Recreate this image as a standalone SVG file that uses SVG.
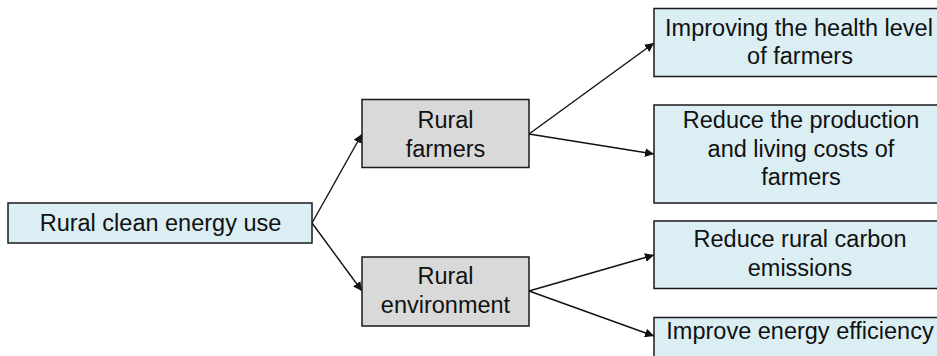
<svg xmlns="http://www.w3.org/2000/svg" width="937" height="356" viewBox="0 0 937 356">
<style>
.blue{fill:#DAEEF3;stroke:#1a1a1a;stroke-width:1.5}
.gray{fill:#D9D9D9;stroke:#1a1a1a;stroke-width:1.5}
text{font-family:"Liberation Sans",Arial,sans-serif;font-size:23.5px;fill:#111;text-anchor:middle}
.conn line{stroke:#111;stroke-width:1.4;marker-end:url(#arr)}
</style>
<defs>
<marker id="arr" viewBox="0 0 10 10" refX="10" refY="5" markerWidth="9" markerHeight="9" markerUnits="userSpaceOnUse" orient="auto">
<path d="M0,0 L10,5 L0,10 z" fill="#111"/>
</marker>
</defs>
<rect width="937" height="356" fill="#fff"/>
<g class="conn">
<line x1="312" y1="223" x2="362" y2="134"/>
<line x1="312" y1="223" x2="362" y2="291"/>
<line x1="529" y1="134" x2="654" y2="43"/>
<line x1="529" y1="134" x2="654" y2="154"/>
<line x1="529" y1="291" x2="654" y2="255"/>
<line x1="529" y1="291" x2="654" y2="336"/>
</g>
<g id="n-root"><rect class="blue" x="8" y="203" width="304" height="40"/><text x="160.5" y="231">Rural clean energy use</text></g>
<g id="n-farmers"><rect class="gray" x="362" y="99.5" width="167" height="68"/><text x="445.5" y="127.5">Rural</text><text x="445.5" y="156.5">farmers</text></g>
<g id="n-env"><rect class="gray" x="362" y="257" width="167" height="69"/><text x="445.5" y="284">Rural</text><text x="445.5" y="313">environment</text></g>
<g id="n-health"><rect class="blue" x="654" y="8.5" width="292" height="68"/><text x="799" y="36">Improving the health level</text><text x="800" y="64">of farmers</text></g>
<g id="n-costs"><rect class="blue" x="654" y="105" width="292" height="98"/><text x="801" y="128">Reduce the production</text><text x="801" y="156.5">and living costs of</text><text x="801" y="185">farmers</text></g>
<g id="n-carbon"><rect class="blue" x="654" y="221" width="292" height="67.5"/><text x="800" y="246.5">Reduce rural carbon</text><text x="800" y="275.5">emissions</text></g>
<g id="n-eff"><rect class="blue" x="654" y="317.5" width="292" height="50"/><text x="800" y="338.5">Improve energy efficiency</text></g>
</svg>
